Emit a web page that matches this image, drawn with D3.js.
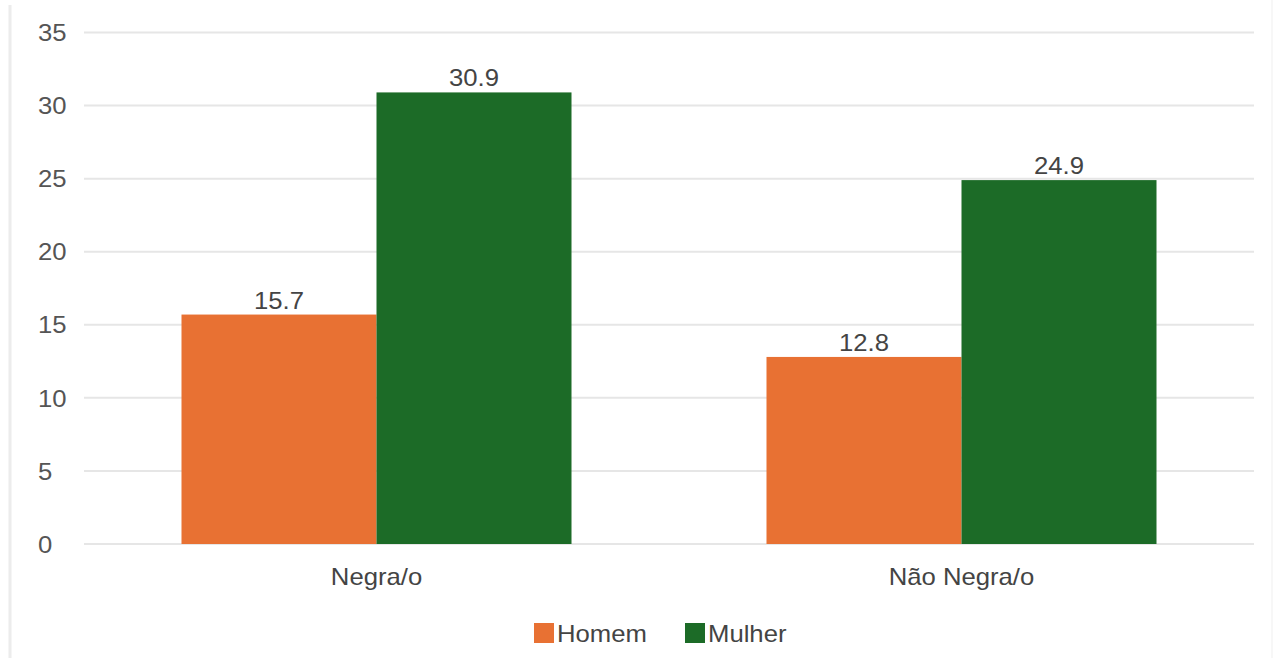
<!DOCTYPE html>
<html>
<head>
<meta charset="utf-8">
<script src="https://cdn.jsdelivr.net/npm/d3@7"></script>
<style>
  html, body { margin: 0; padding: 0; background: #ffffff; }
  svg { display: block; }
  text { font-family: "Liberation Sans", Arial, sans-serif; }
</style>
</head>
<body>
<svg id="chart" width="1279" height="658"></svg>
<script>
// Data
const categories = ["Negra/o", "Não Negra/o"];
const seriesNames = ["Homem", "Mulher"];
const homem = [15.7, 12.8];
const mulher = [30.9, 24.9];
const yTicks = [0, 5, 10, 15, 20, 25, 30, 35];
const colors = ["#e87133", "#1c6b27"];

const W = 1279, H = 658;
const plot = { left: 84, right: 1254, top: 32.5, bottom: 544 };
const svg = d3.select("#chart");
const fontSize = 24;
const textColor = "#444";
const sx = 1.07; // horizontal text stretch

// Panel border lines
svg.append("line").attr("x1", 10).attr("x2", 10).attr("y1", 5).attr("y2", H)
  .attr("stroke", "#ececec").attr("stroke-width", 3);
svg.append("line").attr("x1", 1272).attr("x2", 1272).attr("y1", 0).attr("y2", H)
  .attr("stroke", "#f7f7f7").attr("stroke-width", 2);

const x0 = d3.scaleBand().domain(categories).range([plot.left, plot.right])
  .paddingInner(1 / 3).paddingOuter(1 / 6);
const x1 = d3.scaleBand().domain(seriesNames).range([0, x0.bandwidth()]);
const y = d3.scaleLinear().domain([0, 35]).range([plot.bottom, plot.top]);

// Gridlines
svg.append("g").selectAll("line").data(yTicks).join("line")
  .attr("x1", plot.left).attr("x2", plot.right)
  .attr("y1", d => y(d)).attr("y2", d => y(d))
  .attr("stroke", "#e6e6e6").attr("stroke-width", 2);

// Y tick labels
svg.append("g").selectAll("text").data(yTicks).join("text")
  .attr("transform", d => `translate(38,${y(d)}) scale(${sx},1)`)
  .attr("dy", "0.36em")
  .attr("font-size", fontSize).attr("fill", "#555")
  .text(d => d);

// Bars
const rows = categories.map((c, i) => ({ cat: c, values: [homem[i], mulher[i]] }));
const groups = svg.append("g").selectAll("g").data(rows).join("g")
  .attr("transform", d => `translate(${x0(d.cat)},0)`);

groups.selectAll("rect")
  .data(d => d.values.map((v, j) => ({ name: seriesNames[j], v, j })))
  .join("rect")
  .attr("x", d => x1(d.name))
  .attr("y", d => y(d.v))
  .attr("width", x1.bandwidth())
  .attr("height", d => y(0) - y(d.v))
  .attr("fill", d => colors[d.j]);

// Value labels
groups.selectAll("text")
  .data(d => d.values.map((v, j) => ({ name: seriesNames[j], v, j })))
  .join("text")
  .attr("transform", d => `translate(${x1(d.name) + x1.bandwidth() / 2},${y(d.v) - 6}) scale(${sx},1)`)
  .attr("text-anchor", "middle")
  .attr("font-size", fontSize).attr("fill", textColor)
  .text(d => d.v.toFixed(1));

// Category labels
svg.append("g").selectAll("text").data(categories).join("text")
  .attr("transform", d => `translate(${x0(d) + x0.bandwidth() / 2},585) scale(${sx},1)`)
  .attr("text-anchor", "middle")
  .attr("font-size", fontSize).attr("fill", textColor)
  .text(d => d);

// Legend
const legendX = [534, 685];
const legend = svg.append("g").selectAll("g").data(seriesNames).join("g")
  .attr("transform", (d, i) => `translate(${legendX[i]},623)`);
legend.append("rect").attr("width", 20).attr("height", 20)
  .attr("fill", (d, i) => colors[i]);
legend.append("text")
  .attr("transform", `translate(23,19) scale(${sx},1)`)
  .attr("font-size", fontSize).attr("fill", textColor)
  .text(d => d);
</script>
</body>
</html>
